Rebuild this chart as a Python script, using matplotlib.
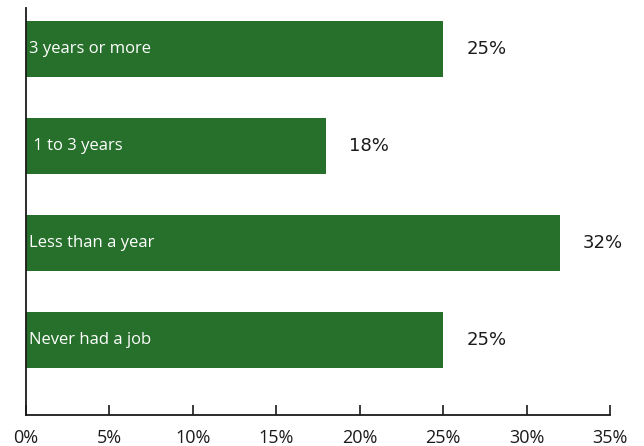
import matplotlib
matplotlib.use("Agg")
import matplotlib.pyplot as plt
from matplotlib.ticker import FuncFormatter

categories = ["3 years or more", " 1 to 3 years", "Less than a year", "Never had a job"]
values = [25, 18, 32, 25]
x_ticks = [0, 5, 10, 15, 20, 25, 30, 35]

bar_color = "#26702B"
plt.rcParams["font.family"] = ["Open Sans", "DejaVu Sans"]

fig = plt.figure(figsize=(6.44, 4.46), dpi=100)
ax = fig.add_axes([26 / 644, 31 / 446, 584 / 644, 407 / 446])

positions = list(range(len(categories)))
ax.barh(positions, values, height=0.58, color=bar_color)

for pos, cat, val in zip(positions, categories, values):
    ax.text(0.2, pos, cat, color="white", fontsize=12, va="center", ha="left")
    ax.annotate(f"{val}%", xy=(val, pos), xytext=(31, 0), textcoords="offset points",
                fontsize=13, va="center", ha="center", color="#1a1a1a",
                family="DejaVu Sans")

ax.set_xlim(0, 35)
ax.set_ylim(3.77, -0.42)
ax.set_xticks(x_ticks)
ax.xaxis.set_major_formatter(FuncFormatter(lambda v, _: f"{v:.0f}%"))
ax.set_yticks([])
ax.tick_params(axis="x", direction="in", length=7, width=1.2, pad=10,
               labelsize=13, colors="#1a1a1a")
for side in ("top", "right"):
    ax.spines[side].set_visible(False)
for side in ("left", "bottom"):
    ax.spines[side].set_linewidth(1.3)
    ax.spines[side].set_color("#1a1a1a")

fig.savefig("out.png", dpi=100)
